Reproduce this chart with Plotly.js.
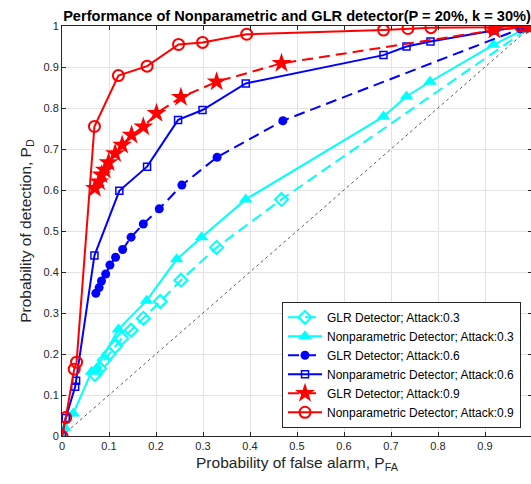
<!DOCTYPE html>
<html>
<head>
<meta charset="utf-8">
<script src="https://cdn.plot.ly/plotly-3.0.1.min.js"></script>
<style>
html,body{margin:0;padding:0;overflow:hidden;background:#fff;}
#plot{width:545px;height:484px;}
</style>
</head>
<body>
<div id="plot"></div>
<script>
// GLR detector, attack 0.3
var glr03_x = [0.07, 0.08, 0.09, 0.10, 0.113, 0.127, 0.147, 0.173, 0.209, 0.253, 0.329, 0.467, 1.0];
var glr03_y = [0.15, 0.165, 0.185, 0.20, 0.218, 0.238, 0.258, 0.287, 0.328, 0.380, 0.460, 0.577, 1.0];
// Nonparametric detector, attack 0.3
var np03_x = [0, 0.006, 0.024, 0.063, 0.074, 0.12, 0.18, 0.244, 0.297, 0.391, 0.684, 0.733, 0.783, 0.918, 0.98, 1.0];
var np03_y = [0, 0.02, 0.055, 0.157, 0.165, 0.26, 0.33, 0.431, 0.485, 0.577, 0.779, 0.828, 0.864, 0.954, 0.99, 1.0];
// GLR detector, attack 0.6
var glr06_x = [0.072, 0.079, 0.084, 0.093, 0.102, 0.114, 0.129, 0.147, 0.173, 0.207, 0.255, 0.330, 0.470, 0.975, 1.0];
var glr06_y = [0.348, 0.362, 0.378, 0.395, 0.417, 0.436, 0.455, 0.485, 0.517, 0.554, 0.612, 0.680, 0.769, 0.993, 1.0];
// Nonparametric detector, attack 0.6
var np06_x = [0, 0.008, 0.028, 0.03, 0.069, 0.122, 0.181, 0.247, 0.299, 0.391, 0.684, 0.733, 0.784, 0.918, 0.98, 1.0];
var np06_y = [0, 0.044, 0.12, 0.135, 0.44, 0.598, 0.657, 0.771, 0.795, 0.860, 0.929, 0.95, 0.962, 0.989, 0.998, 1.0];
// GLR detector, attack 0.9
var glr09_x = [0.070, 0.079, 0.084, 0.091, 0.099, 0.113, 0.128, 0.148, 0.173, 0.201, 0.253, 0.329, 0.467, 0.92, 1.0];
var glr09_y = [0.604, 0.62, 0.637, 0.649, 0.667, 0.689, 0.71, 0.734, 0.754, 0.787, 0.826, 0.864, 0.909, 0.99, 1.0];
// Nonparametric detector, attack 0.9
var np09_x = [0, 0.008, 0.026, 0.031, 0.069, 0.12, 0.181, 0.248, 0.299, 0.393, 0.684, 0.736, 0.785, 0.912, 0.922, 0.975, 0.985, 1.0];
var np09_y = [0, 0.045, 0.163, 0.18, 0.755, 0.879, 0.902, 0.955, 0.96, 0.98, 0.99, 0.994, 0.996, 0.997, 0.998, 1.0, 1.0, 1.0];
// chance line
var diag_x = [0, 1];
var diag_y = [0, 1];

var seriesNames = ['GLR Detector; Attack:0.3', 'Nonparametric Detector; Attack:0.3',
                   'GLR Detector; Attack:0.6', 'Nonparametric Detector; Attack:0.6',
                   'GLR Detector; Attack:0.9', 'Nonparametric Detector; Attack:0.9'];
var xTicks = [0, 0.1, 0.2, 0.3, 0.4, 0.5, 0.6, 0.7, 0.8, 0.9];
var xTickText = ['0', '0.1', '0.2', '0.3', '0.4', '0.5', '0.6', '0.7', '0.8', '0.9'];
var yTicks = [0, 0.1, 0.2, 0.3, 0.4, 0.5, 0.6, 0.7, 0.8, 0.9, 1];
var yTickText = ['0', '0.1', '0.2', '0.3', '0.4', '0.5', '0.6', '0.7', '0.8', '0.9', '1'];

var cyan = '#00FFFF', blue = '#0000FF', red = '#FF0000';
var dashPat = '11px,6px';
var FONT = 'Liberation Sans, Arial, sans-serif';

var traces = [
  {x: diag_x, y: diag_y, mode: 'lines', showlegend: false, hoverinfo: 'skip',
   line: {color: '#333333', width: 0.8, dash: 'dot'}},
  {x: glr03_x, y: glr03_y, name: seriesNames[0], mode: 'lines+markers',
   line: {color: cyan, width: 2, dash: dashPat},
   marker: {symbol: 'diamond-open', size: 10, color: cyan, line: {color: cyan, width: 2}}},
  {x: np03_x, y: np03_y, name: seriesNames[1], mode: 'lines+markers',
   line: {color: cyan, width: 2},
   marker: {symbol: 'triangle-up', size: 12, color: cyan}},
  {x: glr06_x, y: glr06_y, name: seriesNames[2], mode: 'lines+markers',
   line: {color: blue, width: 2, dash: dashPat},
   marker: {symbol: 'circle', size: 9, color: blue}},
  {x: np06_x, y: np06_y, name: seriesNames[3], mode: 'lines+markers',
   line: {color: blue, width: 2},
   marker: {symbol: 'square-open', size: 7, color: blue, line: {color: blue, width: 1.5}}},
  {x: glr09_x, y: glr09_y, name: seriesNames[4], mode: 'lines+markers',
   line: {color: red, width: 2, dash: dashPat},
   marker: {symbol: 'star', size: 15, color: red}},
  {x: np09_x, y: np09_y, name: seriesNames[5], mode: 'lines+markers',
   line: {color: red, width: 2},
   marker: {symbol: 'circle-open', size: 11, color: red, line: {color: red, width: 2}}}
];

var axisCommon = {
  showgrid: true, gridcolor: '#e3e3e3', gridwidth: 1,
  zeroline: false, showline: true, linecolor: '#262626', linewidth: 1, mirror: 'ticks',
  ticks: 'inside', ticklen: 4, tickcolor: '#262626',
  tickfont: {family: FONT, size: 11, color: '#262626'}
};

var layout = {
  width: 545, height: 484,
  margin: {l: 62, r: 13, t: 26, b: 48, pad: 0},
  paper_bgcolor: '#ffffff', plot_bgcolor: '#ffffff',
  font: {family: FONT, color: '#000000'},
  title: {
    text: 'Performance of Nonparametric and GLR detector(P = 20%, k = 30%)',
    font: {family: FONT, size: 14.6, color: '#000000', weight: 'bold'},
    xref: 'paper', x: 0.5, xanchor: 'center',
    yref: 'container', y: 1 - 16 / 484, yanchor: 'middle'
  },
  xaxis: Object.assign({}, axisCommon, {
    range: [0, 1], tickvals: xTicks, ticktext: xTickText,
    title: {text: 'Probability of false alarm, P<sub>FA</sub>',
            font: {family: FONT, size: 15.5, color: '#262626'}, standoff: 5}
  }),
  yaxis: Object.assign({}, axisCommon, {
    range: [0, 1], tickvals: yTicks, ticktext: yTickText,
    title: {text: 'Probability of detection, P<sub>D</sub>',
            font: {family: FONT, size: 15.5, color: '#262626'}, standoff: 8}
  }),
  legend: {
    x: 0.9766, xanchor: 'right', y: 0.02, yanchor: 'bottom',
    bgcolor: '#ffffff', bordercolor: '#262626', borderwidth: 1,
    font: {family: FONT, size: 12, color: '#000000'},
    tracegroupgap: 0, itemwidth: 34
  },
  showlegend: true
};

Plotly.newPlot('plot', traces, layout, {displayModeBar: false, staticPlot: true});
</script>
</body>
</html>
